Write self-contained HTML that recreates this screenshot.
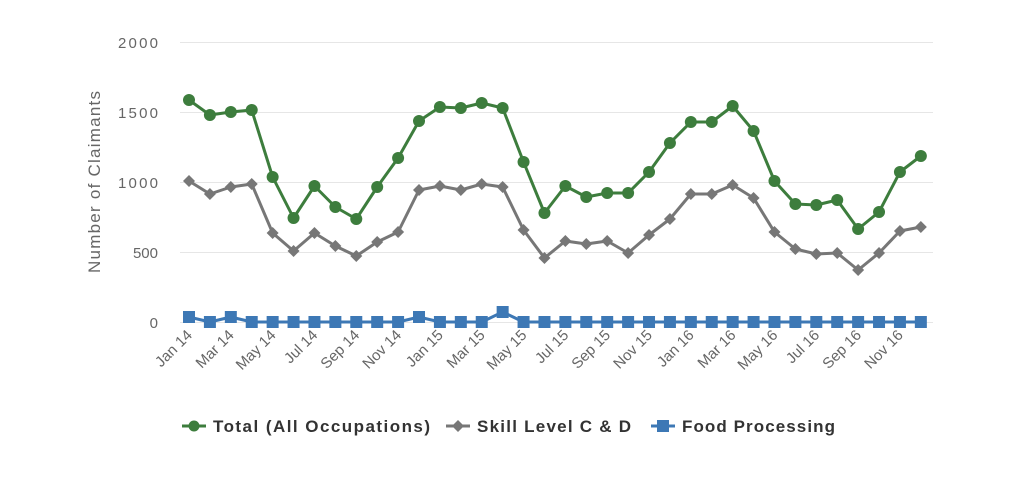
<!DOCTYPE html>
<html><head><meta charset="utf-8"><style>body{margin:0;background:#fff}svg{display:block;font-family:"Liberation Sans",sans-serif}</style></head><body>
<svg width="1024" height="480" xmlns="http://www.w3.org/2000/svg">
<g stroke="#e6e6e6" stroke-width="1">
<line x1="180" x2="933" y1="42.5" y2="42.5"/><line x1="180" x2="933" y1="112.5" y2="112.5"/><line x1="180" x2="933" y1="182.5" y2="182.5"/><line x1="180" x2="933" y1="252.5" y2="252.5"/><line x1="180" x2="933" y1="322.5" y2="322.5"/>
</g>
<g fill="#666" font-size="15" text-anchor="end">
<text x="158" y="48" textLength="40">2000</text><text x="158" y="118" textLength="40">1500</text><text x="158" y="188" textLength="40">1000</text><text x="158" y="258">500</text><text x="158" y="328">0</text>
</g>
<text transform="translate(100,182) rotate(-90)" text-anchor="middle" fill="#666" font-size="17" textLength="182">Number of Claimants</text>
<g id="ch"></g>
<g font-size="17" font-weight="bold" fill="#333">
<line x1="182" x2="206" y1="426" y2="426" stroke="#3d7d3d" stroke-width="3"/><circle cx="194" cy="426" r="5.5" fill="#3d7d3d"/>
<text x="213" y="432" textLength="217">Total (All Occupations)</text>
<line x1="446" x2="470" y1="426" y2="426" stroke="#777" stroke-width="3"/><path d="M458 420L464 426L458 432L452 426Z" fill="#777"/>
<text x="477" y="432" textLength="154">Skill Level C &amp; D</text>
<line x1="651" x2="675" y1="426" y2="426" stroke="#3d78b5" stroke-width="3"/><rect x="657" y="420" width="12" height="12" fill="#3d78b5"/>
<text x="682" y="432" textLength="153">Food Processing</text>
</g>
</svg>
<script>
const g=[100,115,112,110,177,218,186,207,219,187,158,121,107,108,103,108,162,213,186,197,193,193,172,143,122,122,106,131,181,204,205,200,229,212,172,156];
const s=[181,194,187,184,233,251,233,246,256,242,232,190,186,190,184,187,230,258,241,244,241,253,235,219,194,194,185,198,232,249,254,253,270,253,231,227];
const b=g.map((_,i)=>i==0||i==2||i==11?317:i==15?312:322);
const X=i=>189+i*20.91;
const ns="http://www.w3.org/2000/svg",root=document.getElementById('ch');
function el(t,a){const e=document.createElementNS(ns,t);for(const k in a)e.setAttribute(k,a[k]);root.appendChild(e);return e;}
function line(d,c){el('polyline',{points:d.map((y,i)=>X(i)+','+y).join(' '),fill:'none',stroke:c,'stroke-width':3,'stroke-linejoin':'round'});}
line(b,'#3d78b5');line(s,'#777');line(g,'#3d7d3d');
b.forEach((y,i)=>el('rect',{x:X(i)-6,y:y-6,width:12,height:12,fill:'#3d78b5'}));
s.forEach((y,i)=>el('path',{d:`M${X(i)} ${y-6}L${X(i)+6} ${y}L${X(i)} ${y+6}L${X(i)-6} ${y}Z`,fill:'#777'}));
g.forEach((y,i)=>el('circle',{cx:X(i),cy:y,r:6,fill:'#3d7d3d'}));
const m=['Jan','Mar','May','Jul','Sep','Nov'];
for(let i=0;i<36;i+=2){const x=X(i)+4,y=336;const t=el('text',{x:x,y:y,transform:`rotate(-45 ${x} ${y})`,'text-anchor':'end',fill:'#666','font-size':15});t.textContent=m[(i%12)/2]+' '+(14+Math.floor(i/12));}
</script>
</body></html>
